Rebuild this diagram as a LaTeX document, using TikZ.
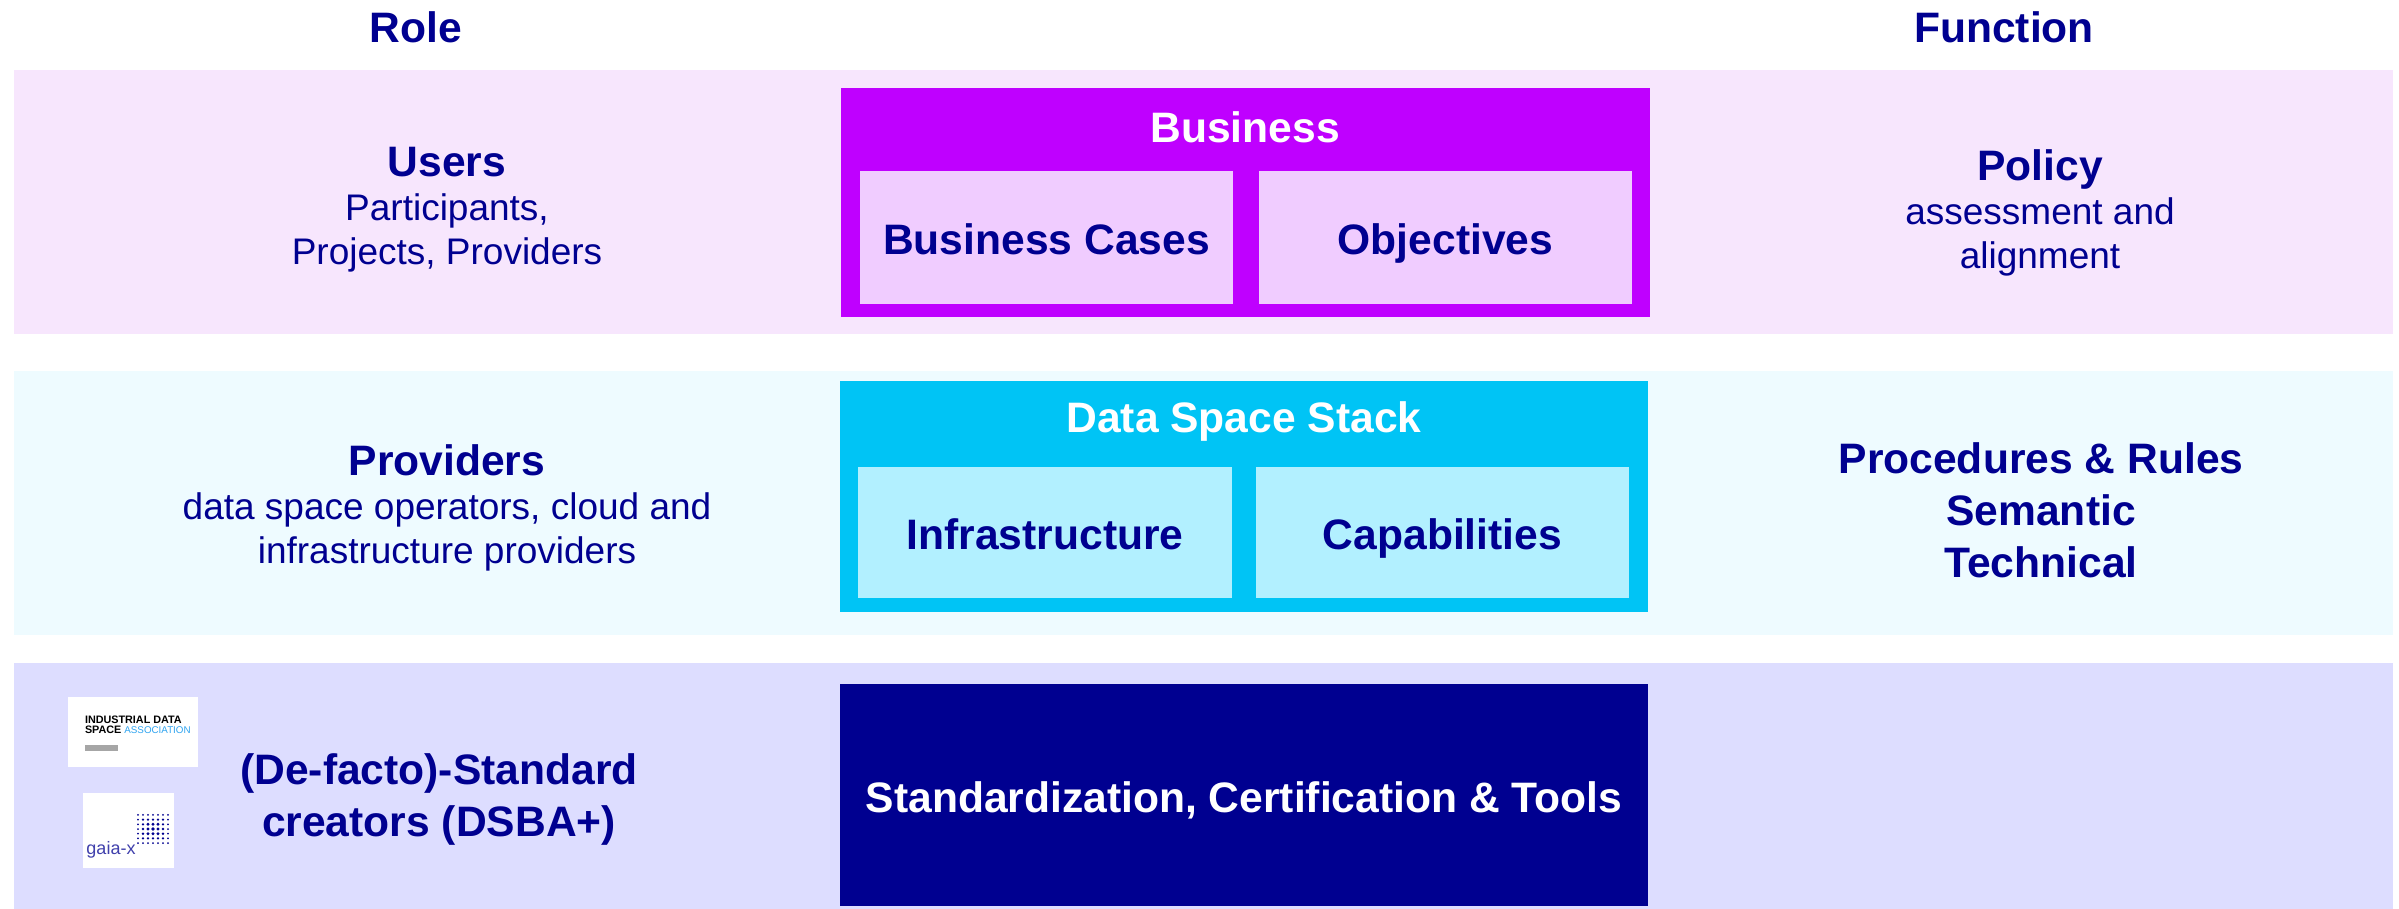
\documentclass[tikz,border=0pt]{standalone}
\usepackage{fontspec}
\setmainfont{Liberation Sans}
\usetikzlibrary{positioning}
\definecolor{navy}{HTML}{000090}
\definecolor{bandpink}{HTML}{F7E6FD}
\definecolor{bandcyan}{HTML}{EEFBFF}
\definecolor{bandblue}{HTML}{DDDDFF}
\definecolor{bizpurple}{HTML}{BF00FF}
\definecolor{bizlight}{HTML}{F0CCFF}
\definecolor{stackcyan}{HTML}{00C4F5}
\definecolor{stacklight}{HTML}{B2F0FF}
\definecolor{logoblue}{HTML}{2FA4F0}
\newcommand{\rolehead}{\fontsize{21.3}{25}\bfseries}
\tikzset{
  panel/.style={inner sep=0pt,outer sep=0pt,text=navy,align=center},
  heading/.style={panel,font=\fontsize{21.3}{26}\bfseries},
  boxhead/.style={heading,text height=20pt,text depth=3pt},
  role/.style={panel,font=\fontsize{18.5}{22}\selectfont},
  title/.style={panel,text=white,font=\fontsize{21.3}{26}\bfseries},
  logobox/.style={panel,fill=white},
  griddot/.style={circle,fill=navy,inner sep=0pt},
}
\begin{document}
\begin{tikzpicture}[x=0.5pt,y=-0.5pt]
\useasboundingbox (0,0) rectangle (2399,909);
% bands
\node[panel,fill=bandpink,minimum width=1189.5pt,minimum height=132pt] (bandusers) at (1203.5,202) {};
\node[panel,fill=bandcyan,minimum width=1189.5pt,minimum height=132pt] (bandproviders) at (1203.5,503) {};
\node[panel,fill=bandblue,minimum width=1189.5pt,minimum height=123pt] (bandcreators) at (1203.5,786) {};
% column heads
\node[heading] (role) at (416,27) {Role};
\node[heading] (function) at (2004,27) {Function};
% left and right texts
\node[role] (users) at (447,210) {{\rolehead Users}\\Participants,\\Projects, Providers};
\node[role] (policy) at (2040,212.5) {{\rolehead Policy}\\assessment and\\alignment};
\node[role] (providers) at (447,508) {{\rolehead Providers}\\data space operators, cloud and\\infrastructure providers};
\node[heading] (rules) at (2041,510) {Procedures \& Rules\\Semantic\\Technical};
\node[heading] (creators) at (439,799) {(De-facto)-Standard\\creators (DSBA+)};
% business
\node[panel,fill=bizpurple,minimum width=404.5pt,minimum height=114.5pt] (business) at (1245.5,202.5) {};
\node[title] (businesstitle) at (1245,127) {Business};
\node[boxhead,fill=bizlight,minimum width=186.5pt,minimum height=66.5pt] (cases) at (1046.5,237.5) {Business Cases};
\node[boxhead,fill=bizlight,minimum width=186.5pt,minimum height=66.5pt] (objectives) at (1445.5,237.5) {Objectives};
% data space stack
\node[panel,fill=stackcyan,minimum width=404pt,minimum height=115.5pt] (stack) at (1244,496.5) {};
\node[title] (stacktitle) at (1244,421) {Data Space Stack};
\node[boxhead,fill=stacklight,minimum width=187pt,minimum height=65.5pt] (infrastructure) at (1045,532.5) {Infrastructure};
\node[boxhead,fill=stacklight,minimum width=186.5pt,minimum height=65.5pt] (capabilities) at (1442.5,532.5) {Capabilities};
% standards
\node[boxhead,text=white,fill=navy,minimum width=404pt,minimum height=111pt] (standards) at (1244,795) {Standardization, Certification \& Tools};
% logos
\node[logobox,minimum width=65pt,minimum height=35pt] (idsa) at (133,732) {};
\node[panel,anchor=west,align=left,text=black,font=\fontsize{5.4}{5}\bfseries] (idsatext) at (85,725) {INDUSTRIAL DATA\\SPACE \textcolor{logoblue}{\fontsize{4.9}{5}\mdseries ASSOCIATION}};
\node[panel,fill=black!35,minimum width=16.5pt,minimum height=3pt] (idsabar) at (101.5,748) {};
\node[logobox,minimum width=45.5pt,minimum height=37.5pt] (gaia) at (128.5,830.5) {};
\node[panel,text=navy!75,font=\fontsize{9}{10}\selectfont] (gaiatext) at (111,850) {gaia-x};
\foreach \gx in {-3,...,3}
  \foreach \gy in {-3,...,3} {
    \pgfmathsetmacro{\gsize}{1.9-0.3*max(abs(\gx),abs(\gy))}
    \node[griddot,minimum size=\gsize pt] (griddot\gx\gy) at (153+\gx*5,829+\gy*4.7) {};
  }
\end{tikzpicture}
\end{document}
